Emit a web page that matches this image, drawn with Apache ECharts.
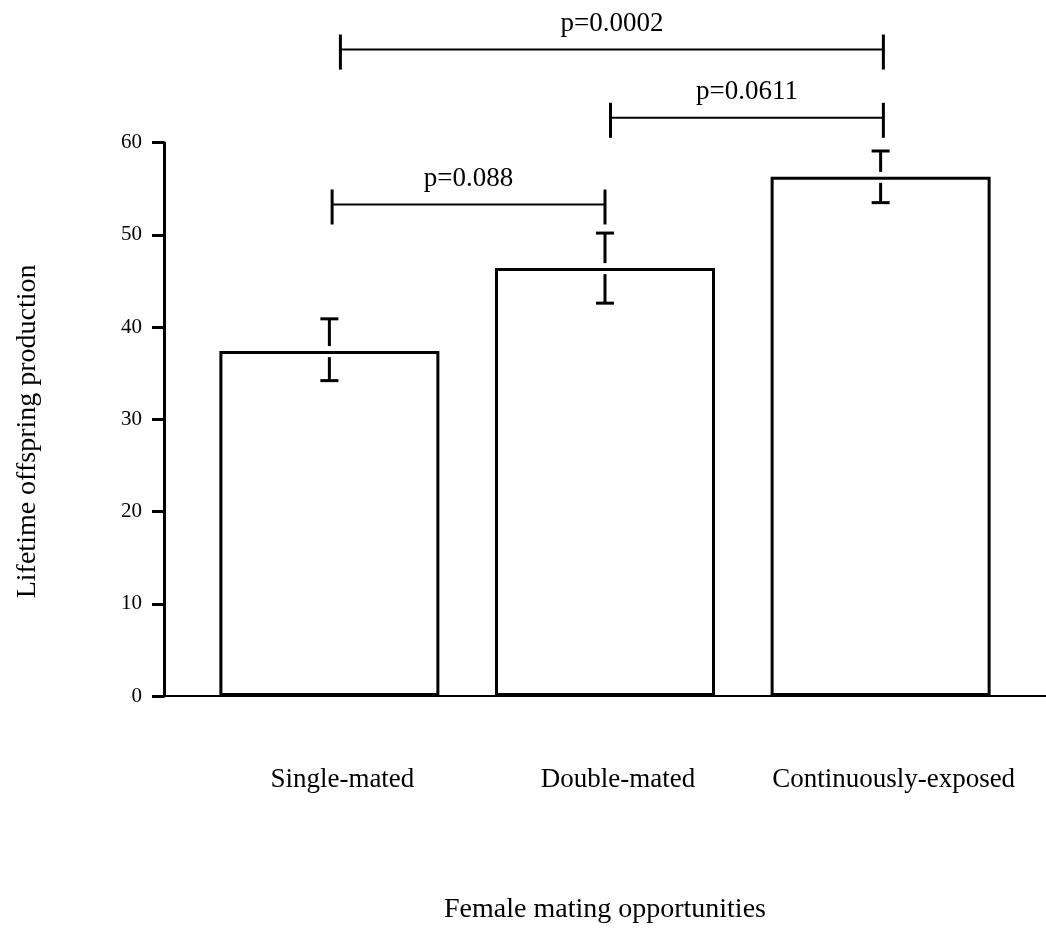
<!DOCTYPE html>
<html>
<head>
<meta charset="utf-8">
<script src="https://cdn.jsdelivr.net/npm/echarts@6/dist/echarts.min.js"></script>
<style>
  html, body { margin: 0; padding: 0; background: #fff; }
  #chart { width: 1046px; height: 936px; }
</style>
</head>
<body>
<div id="chart"></div>
<script>
// Groups and their positions on the x scale
const categories = ['Single-mated', 'Double-mated', 'Continuously-exposed'];
const categoryPos = [1, 2, 3];

// Mean lifetime offspring production with upper / lower error limits
const means = [37.4, 46.4, 56.3];
const errUpper = [40.9, 50.2, 59.1];
const errLower = [34.2, 42.6, 53.5];

// Pairwise comparison brackets
const bracketFrom = [1.01, 2.02, 1.04];
const bracketTo = [2.0, 3.01, 3.01];
const bracketHeight = [53.3, 62.7, 70.1];
const bracketLabels = ['p=0.088', 'p=0.0611', 'p=0.0002'];

const SERIF = '"Liberation Serif", "Times New Roman", serif';

const chart = echarts.init(document.getElementById('chart'), null, { renderer: 'canvas' });

const barData = categoryPos.map((x, i) => [x, means[i]]);
const errData = categoryPos.map((x, i) => [x, errLower[i], errUpper[i], means[i]]);
const bracketData = bracketFrom.map((x1, i) => [x1, bracketTo[i], bracketHeight[i], i]);

chart.setOption({
  backgroundColor: '#fff',
  animation: false,
  grid: { left: 164, right: 0, top: 142.7, bottom: 240 },
  xAxis: {
    type: 'value',
    min: 0.4,
    max: 3.6,
    name: 'Female mating opportunities',
    nameLocation: 'middle',
    nameGap: 200,
    nameTextStyle: { fontFamily: SERIF, fontSize: 28, color: '#000' },
    axisLine: { show: true, onZero: false, lineStyle: { color: '#000', width: 2 } },
    axisTick: { show: false },
    splitLine: { show: false },
    axisLabel: {
      customValues: categoryPos,
      margin: 70,
      padding: [0, 0, 0, 26],
      fontFamily: SERIF,
      fontSize: 27,
      color: '#000',
      formatter: v => categories[categoryPos.indexOf(v)] || ''
    }
  },
  yAxis: {
    type: 'value',
    min: 0,
    max: 60,
    interval: 10,
    name: 'Lifetime offspring production',
    nameLocation: 'middle',
    nameGap: 122,
    nameRotate: 90,
    nameTextStyle: { fontFamily: SERIF, fontSize: 28, color: '#000', padding: [0, 24, 0, 0] },
    axisLine: { show: true, lineStyle: { color: '#000', width: 3 } },
    axisTick: { show: true, inside: false, length: 12, lineStyle: { color: '#000', width: 3 } },
    splitLine: { show: false },
    axisLabel: { margin: 22, fontFamily: SERIF, fontSize: 21, color: '#000' }
  },
  series: [
    {
      type: 'bar',
      data: barData,
      barWidth: 220,
      itemStyle: { color: '#fff', borderColor: '#000', borderWidth: 3 },
      z: 2
    },
    {
      type: 'custom',
      data: errData,
      z: 3,
      clip: false,
      renderItem: function (params, api) {
        const x = api.value(0);
        const lo = api.coord([x, api.value(1)]);
        const hi = api.coord([x, api.value(2)]);
        const mid = api.coord([x, api.value(3)]);
        const cap = 9;
        const st = { stroke: '#000', lineWidth: 3 };
        return {
          type: 'group',
          children: [
            { type: 'line', shape: { x1: hi[0] - cap, y1: hi[1], x2: hi[0] + cap, y2: hi[1] }, style: st },
            { type: 'line', shape: { x1: hi[0], y1: hi[1], x2: hi[0], y2: mid[1] - 5 }, style: st },
            { type: 'line', shape: { x1: lo[0], y1: mid[1] + 6, x2: lo[0], y2: lo[1] }, style: st },
            { type: 'line', shape: { x1: lo[0] - cap, y1: lo[1], x2: lo[0] + cap, y2: lo[1] }, style: st }
          ]
        };
      }
    },
    {
      type: 'custom',
      data: bracketData,
      z: 4,
      clip: false,
      renderItem: function (params, api) {
        const y = api.value(2);
        const p1 = api.coord([api.value(0), y]);
        const p2 = api.coord([api.value(1), y]);
        const label = bracketLabels[api.value(3)];
        return {
          type: 'group',
          children: [
            { type: 'line', shape: { x1: p1[0], y1: p1[1], x2: p2[0], y2: p2[1] }, style: { stroke: '#000', lineWidth: 2 } },
            { type: 'line', shape: { x1: p1[0], y1: p1[1] - 15, x2: p1[0], y2: p1[1] + 20 }, style: { stroke: '#000', lineWidth: 3 } },
            { type: 'line', shape: { x1: p2[0], y1: p2[1] - 15, x2: p2[0], y2: p2[1] + 20 }, style: { stroke: '#000', lineWidth: 3 } },
            {
              type: 'text',
              style: {
                text: label,
                x: (p1[0] + p2[0]) / 2,
                y: p1[1] - 26,
                align: 'center',
                verticalAlign: 'middle',
                fontFamily: SERIF,
                fontSize: 27,
                fill: '#000'
              }
            }
          ]
        };
      }
    }
  ]
});
</script>
</body>
</html>
